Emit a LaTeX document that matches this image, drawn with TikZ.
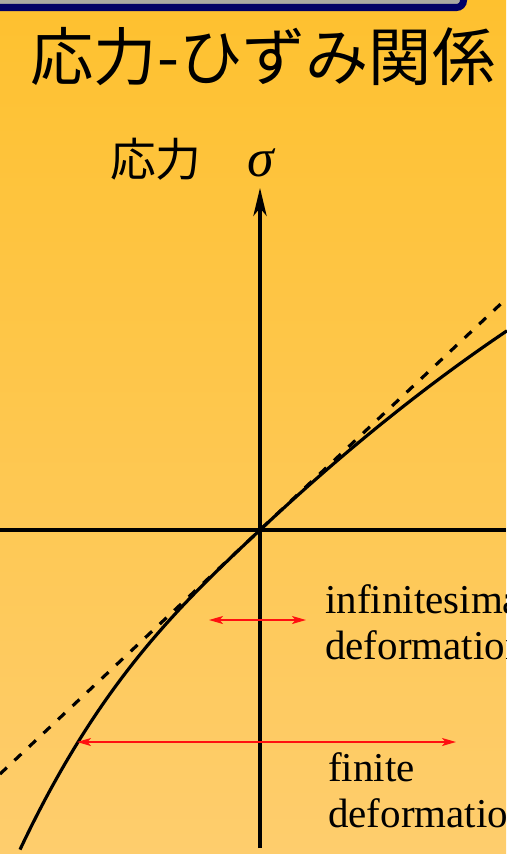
\documentclass[tikz,border=0pt]{standalone}
\usepackage{fontspec}
\setmainfont{Liberation Serif}
\newfontfamily\jpfont{Noto Sans CJK JP}
\usetikzlibrary{arrows.meta, positioning}
\definecolor{bgtop}{HTML}{FEC12F}
\definecolor{bgbottom}{HTML}{FECD6D}
\definecolor{navy}{HTML}{000066}
\definecolor{boxgray}{HTML}{A8A8A2}
\definecolor{markred}{HTML}{FF1010}

\begin{document}
\begin{tikzpicture}[x=0.3mm, y=-0.3mm,
    axisline/.style={line width=2.6pt},
    yaxisline/.style={axisline, -{Stealth[length=8.4mm, width=4mm, inset=2.4mm]}},
    curveline/.style={line width=2.7pt, line join=round},
    tangentline/.style={line width=2.7pt, dash pattern=on 8pt off 9pt},
    spanarrow/.style={draw=markred, line width=1.2pt,
      {Stealth[length=4.2mm, width=2.4mm, inset=1mm]}-{Stealth[length=4.2mm, width=2.4mm, inset=1mm]}},
    titletext/.style={font=\jpfont\fontsize{54}{58}\selectfont, inner sep=0pt},
    axislabel/.style={font=\fontsize{39}{40}\selectfont, inner sep=0pt},
    defolabel/.style={font=\fontsize{35}{40}\selectfont, align=left,
      inner sep=0pt, anchor=north west},
]
\useasboundingbox (0,0) rectangle (506,854);
% Background
\shade[top color=bgtop, bottom color=bgbottom] (0,0) rectangle (506,854);
\draw[line width=6pt, draw=navy, fill=boxgray, rounded corners=6pt]
    (-20,-40) rectangle (463.5,7.5);
% Nodes
\node[titletext] (title) at (263,57) {応力-ひずみ関係};
\node[axislabel, anchor=base west] (ylabel) at (110,176)
    {{\jpfont 応力}\hspace{1.0em}{\fontsize{46}{46}\selectfont\itshape σ}};
\node[defolabel] (inflabel) at (325,584) {infinitesimal\\deformation};
\node[defolabel] (finlabel) at (328,752) {finite\\deformation};
\coordinate (O) at (260,530);
\coordinate (ytop) at (260,188);
\coordinate (ybot) at (260,848);
\coordinate (xl) at (0,530);
\coordinate (xr) at (506,530);
\coordinate (tanlo) at (0,774);
\coordinate (tanhi) at (506,299);
\coordinate (inf_l) at (209,620);
\coordinate (inf_r) at (306,620);
\coordinate (fin_l) at (77,742);
\coordinate (fin_r) at (456,742);
% Axes
\draw[axisline] (xl) -- (xr);
\draw[yaxisline] (ybot) -- (ytop);
% Curves (x in units of 100 px from the origin)
\draw[tangentline] (tanlo) -- (tanhi);
\draw[curveline] plot[domain=-2.4:2.47, samples=120]
    ({260+100*\x}, {530-(\x<0 ? 94*\x+6.8*\x^3 : 94*\x-5.4*\x^2)});
% Arrows
\draw[spanarrow] (inf_l) -- (inf_r);
\draw[spanarrow] (fin_l) -- (fin_r);
\end{tikzpicture}
\end{document}
